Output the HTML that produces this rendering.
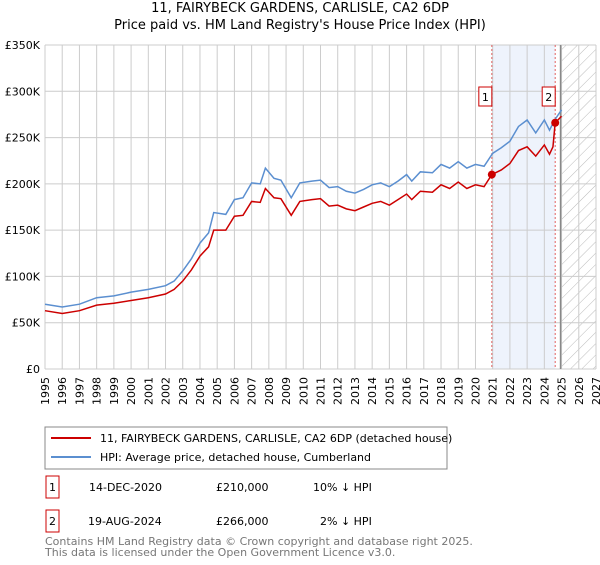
<!DOCTYPE html>
<html><head><meta charset="utf-8"><style>
body{margin:0;background:#fff;font-family:"Liberation Sans","DejaVu Sans",sans-serif;}
svg text{font-family:"DejaVu Sans","Liberation Sans",sans-serif;}
</style></head><body>
<svg id="c" width="600" height="560" xmlns="http://www.w3.org/2000/svg">
<defs><pattern id="hatch" width="8" height="8" patternUnits="userSpaceOnUse" patternTransform="rotate(45)"><line x1="0" y1="0" x2="0" y2="8" stroke="#bbb" stroke-width="1"/></pattern></defs>
<text x="300" y="12" text-anchor="middle" font-size="13">11, FAIRYBECK GARDENS, CARLISLE, CA2 6DP</text>
<text x="300" y="29" text-anchor="middle" font-size="13">Price paid vs. HM Land Registry's House Price Index (HPI)</text>
<g id="plot"></g>
<rect x="45" y="427" width="402" height="42" fill="#fff" stroke="#888"/>
<line x1="51" y1="438" x2="91" y2="438" stroke="#cc0000" stroke-width="2"/>
<text x="100" y="442" font-size="11">11, FAIRYBECK GARDENS, CARLISLE, CA2 6DP (detached house)</text>
<line x1="51" y1="457" x2="91" y2="457" stroke="#5b8fd0" stroke-width="2"/>
<text x="100" y="461" font-size="11">HPI: Average price, detached house, Cumberland</text>
<g font-size="11">
<rect x="46" y="476" width="13" height="22" fill="none" stroke="#cc0000"/><text x="52.5" y="491" text-anchor="middle">1</text>
<text x="89" y="491">14-DEC-2020</text><text x="216" y="491">£210,000</text><text x="313" y="491">10% ↓ HPI</text>
<rect x="46" y="510" width="13" height="22" fill="none" stroke="#cc0000"/><text x="52.5" y="525" text-anchor="middle">2</text>
<text x="88" y="525">19-AUG-2024</text><text x="216" y="525">£266,000</text><text x="320" y="525">2% ↓ HPI</text>
</g>
<text x="45" y="545" font-size="11" fill="#777">Contains HM Land Registry data © Crown copyright and database right 2025.</text>
<text x="45" y="556" font-size="11" fill="#777">This data is licensed under the Open Government Licence v3.0.</text>
</svg>
<script>
const hpiT=[1995,1996,1997,1998,1999,2000,2001,2002,2002.5,2003,2003.5,2004,2004.5,2004.8,2005.5,2006,2006.5,2007,2007.5,2007.8,2008.3,2008.7,2009.3,2009.8,2010.5,2011,2011.5,2012,2012.5,2013,2013.5,2014,2014.5,2015,2015.5,2016,2016.3,2016.8,2017.5,2018,2018.5,2019,2019.5,2020,2020.5,2021,2021.5,2022,2022.5,2023,2023.5,2024,2024.3,2024.6,2025];
const hpiV=[70,67,70,77,79,83,86,90,95,106,119,136,147,169,167,183,185,201,200,217,206,204,185,201,203,204,196,197,192,190,194,199,201,197,203,210,203,213,212,221,217,224,217,221,219,233,239,246,262,269,255,269,258,269,280];
const propT=[1995,1996,1997,1998,1999,2000,2001,2002,2002.5,2003,2003.5,2004,2004.5,2004.8,2005.5,2006,2006.5,2007,2007.5,2007.8,2008.3,2008.7,2009.3,2009.8,2010.5,2011,2011.5,2012,2012.5,2013,2013.5,2014,2014.5,2015,2015.5,2016,2016.3,2016.8,2017.5,2018,2018.5,2019,2019.5,2020,2020.5,2020.95,2021.5,2022,2022.5,2023,2023.5,2024,2024.3,2024.5,2024.63,2025];
const propV=[63,60,63,69,71,74,77,81,86,95,107,122,132,150,150,165,166,181,180,195,185,184,166,181,183,184,176,177,173,171,175,179,181,177,183,189,183,192,191,199,195,202,195,199,197,210,215,222,236,240,230,242,232,240,266,273];
const saleT=[2020.95,2024.63];
const saleV=[210,266];
const saleLabels=["1","2"];
const yTicks=[0,50,100,150,200,250,300,350];
const yTickLabels=["£0","£50K","£100K","£150K","£200K","£250K","£300K","£350K"];
const x0=45,x1=596,y0=369,y1=45,t0=1995,t1=2027;
const X=t=>x0+(t-t0)/(t1-t0)*(x1-x0);
const Y=v=>y0-v/350*(y0-y1);
const NS="http://www.w3.org/2000/svg";
const g=document.getElementById('plot');
function mk(tag,at,parent){const e=document.createElementNS(NS,tag);for(const k in at)e.setAttribute(k,at[k]);(parent||g).appendChild(e);return e;}
let e;
e=mk('rect',{x:X(saleT[0]),y:y1,width:X(saleT[1])-X(saleT[0]),height:y0-y1,fill:'#eef3fc'});


e=mk('rect',{x:X(2025),y:y1,width:x1-X(2025),height:y0-y1,fill:'url(#hatch)'});


for(let yr=1995;yr<=2027;yr++){
 e=mk('line',{x1:X(yr),x2:X(yr),y1:y1,y2:y0,stroke:'#ccc'});
 
 
 e=mk('text',{x:0,y:0,'font-size':'11',transform:`translate(${X(yr)+4},405) rotate(-90)`});
 e.textContent=yr;
 
 
}
yTicks.forEach((v,i)=>{
 e=mk('line',{x1:x0,x2:x1,y1:Y(v),y2:Y(v),stroke:'#ccc'});
 
 
 e=mk('text',{x:40,y:Y(v)+4,'font-size':'11','text-anchor':'end'});
 e.textContent=yTickLabels[i];
 
 
});
e=mk('line',{x1:X(2025)-1,x2:X(2025)-1,y1:y1,y2:y0,stroke:'#888','stroke-width':1.5});


saleT.forEach((t,i)=>{
 e=mk('line',{x1:X(t),x2:X(t),y1:y1,y2:y0,stroke:'#e06060','stroke-dasharray':'2,2'});
 
 
});
e=mk('polyline',{points:hpiT.map((t,i)=>X(t)+','+Y(hpiV[i])).join(' '),fill:'none',stroke:'#5b8fd0','stroke-width':1.5});


e=mk('polyline',{points:propT.map((t,i)=>X(t)+','+Y(propV[i])).join(' '),fill:'none',stroke:'#cc0000','stroke-width':1.5});


saleT.forEach((t,i)=>{
 e=mk('circle',{cx:X(t),cy:Y(saleV[i]),r:4,fill:'#cc0000'});
 
 
 e=mk('rect',{x:X(t)-13,y:87,width:13,height:19,fill:'#fff',stroke:'#cc0000'});
 
 
 e=mk('text',{x:X(t)-6.5,y:101,'font-size':'11','text-anchor':'middle'});
 e.textContent=saleLabels[i];
 
 
});
</script>
</body></html>
